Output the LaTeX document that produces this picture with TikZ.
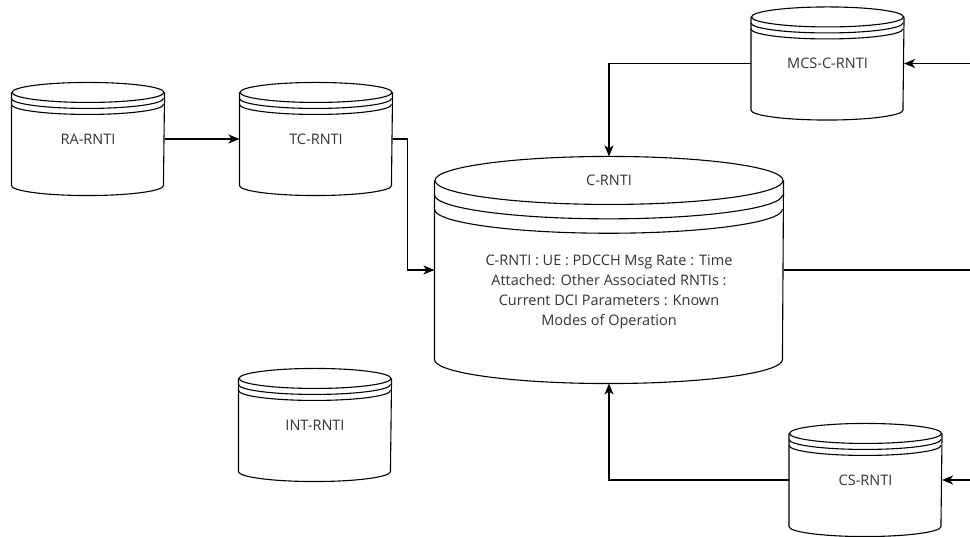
\documentclass[tikz,border=0pt]{standalone}
\usepackage{fontspec}
\setmainfont{Open Sans}
\usetikzlibrary{arrows.meta,calc,positioning}

\definecolor{ink}{HTML}{333333}

% cylinder outline round a (blank) node: node, half width, ellipse radius
\newcommand{\drawstore}[3]{%
  \draw ($(#1.north west)+(0,-#3)$) -- ($(#1.south west)+(0,#3)$)
    arc (180:360:#2 and #3) -- ($(#1.north east)+(0,-#3)$);
  \draw ($(#1.north)+(0,-#3)$) ellipse (#2 and #3);
  \draw ($(#1.north west)+(0,-1.6*#3)$) arc (180:360:#2 and #3);
  \draw ($(#1.north west)+(0,-2.2*#3)$) arc (180:360:#2 and #3);
}

\tikzset{
  store/.style={minimum width=152pt, minimum height=112pt, inner sep=0pt,
    text=ink, font=\fontsize{14.5}{17}\selectfont},
  bigstore/.style={minimum width=348pt, minimum height=226pt, inner sep=0pt},
  link/.style={-{Stealth[length=11pt,width=9pt,inset=3pt]}}
}

\begin{document}
\begin{tikzpicture}[x=1pt,y=1pt,line width=1.1pt]
  \useasboundingbox (0,0) rectangle (970,537);

  % stores
  \node[store] (ra) at (88,398) {RA-RNTI};
  \node[store] (tc) at (316,398) {TC-RNTI};
  \node[store] (int) at (315,112) {INT-RNTI};
  \node[store] (mcs) at (827.5,473.5) {MCS-C-RNTI};
  \node[store] (cs) at (865.5,57) {CS-RNTI};
  \node[bigstore] (crnti) at (609,267) {};
  \node[text=ink, font=\fontsize{14.5}{17}\selectfont] (ctitle)
    at ($(crnti.north)+(0,-24)$) {C-RNTI};
  \node[text=ink, align=center, font=\fontsize{14.5}{20}\selectfont] (cbody)
    at ($(crnti.center)+(0,-22)$)
    {C-RNTI : UE : PDCCH Msg Rate : Time\\
     Attached: Other Associated RNTIs :\\
     Current DCI Parameters : Known\\
     Modes of Operation};

  \foreach \n in {ra,tc,int,mcs,cs}
    \drawstore{\n}{76}{10};
  \drawstore{crnti}{174}{24};

  % free ends at the right border
  \coordinate (mcsin) at (970,473.5);
  \coordinate (csin) at (970,57);
  \coordinate (cout) at (970,267);

  % connectors
  \draw[link] (ra.east) -- (tc.west);
  \draw[link] (tc.east) -- ++(15,0) |- (crnti.west);
  \draw[link] (mcs.west) -| (crnti.north);
  \draw[link] (cs.west) -| (crnti.south);
  \draw[link] (mcsin) -- (mcs.east);
  \draw[link] (csin) -- (cs.east);
  \draw (crnti.east) -- (cout);
\end{tikzpicture}
\end{document}
